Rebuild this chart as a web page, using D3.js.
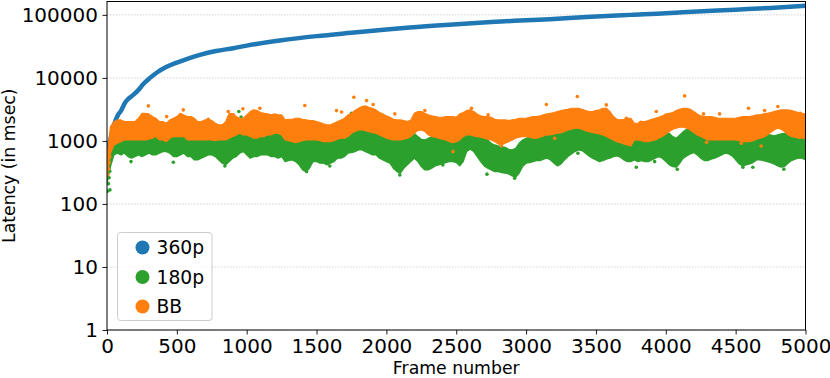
<!DOCTYPE html>
<html><head><meta charset="utf-8">
<script src="https://cdn.jsdelivr.net/npm/d3@7"></script>
<style>body{margin:0;background:#fff}svg{display:block}text{font-family:"DejaVu Sans",sans-serif}</style>
</head><body><svg id="chart" width="830" height="378"></svg>
<script>
// ---- data (latency in msec) ----
const frameStep = 25; // band samples every 25 frames, 0..5000
const seriesNames = ["360p", "180p", "BB"];
const xTicks = [0, 500, 1000, 1500, 2000, 2500, 3000, 3500, 4000, 4500, 5000];
const yTicks = [1, 10, 100, 1000, 10000, 100000];
const yLimit = [1, 163000];

// 360p: steadily growing latency
const p360Frames = [0, 10, 21, 36, 50, 79, 100, 128, 150, 188, 224, 260, 308, 360, 427, 500, 580, 665, 780, 904, 1000, 1237, 1500, 1750, 2000, 2167, 2500, 2750, 3000, 3169, 3500, 3750, 4000, 4120, 4500, 4750, 5000];
const p360Values = [600, 800, 1000, 1340, 1800, 2590, 3000, 4000, 4600, 5370, 6400, 8000, 10000, 12300, 15000, 17500, 20300, 23200, 26700, 29600, 32500, 39100, 46000, 52000, 58500, 63000, 71000, 77000, 82000, 85500, 94000, 100000, 106000, 110000, 121000, 129000, 139000];

// BB: upper / lower envelope of the orange cloud
const bbHigh = [564,1688,2027,2154,2154,2027,2027,2027,2027,2290,2749,2749,2683,2433,2290,2027,2027,1907,2154,2290,2433,2749,2586,2433,2433,2290,2027,2027,2154,2208,2102,1907,1795,1795,2027,2749,2683,2433,2290,2290,2586,2922,3105,3030,2817,2749,2683,2586,2683,2586,2586,
2154,2208,2208,2290,2290,2208,2154,2102,2102,2027,1954,1861,1795,1795,1907,2027,2154,2290,2586,2749,3030,3300,3508,3594,3422,3300,3105,2817,2683,2494,2375,2208,2154,2154,2102,2027,2154,2749,2922,2922,2749,2586,2494,2433,2375,2375,2433,2433,2433,2375,
2683,2817,3030,3105,2922,2683,2494,2433,2433,2375,2208,2154,2154,2154,2102,2154,2208,2290,2290,2290,2375,2433,2433,2494,2586,2683,2749,2817,2922,3030,3105,3182,3300,3300,3300,3182,3030,2922,2922,3030,3105,3300,3300,2922,2433,2208,2154,2208,2290,2290,
1907,1907,2027,2027,2102,2208,2290,2375,2494,2683,2749,2817,3030,3182,3300,3300,3182,2922,2683,2494,2433,2433,2433,2375,2290,2290,2290,2290,2290,2290,2375,2433,2433,2433,2494,2586,2586,2683,2749,2817,2922,3030,3105,3105,3105,3030,2922,2817,2749,2683];
const bbLow = [272,637,864,918,976,1037,1037,1037,1037,1037,1037,1037,1063,1102,1172,1037,1037,976,1102,1172,1172,1172,1172,1037,1037,1037,1037,1037,1037,1037,1037,1012,1037,1037,1037,1102,1172,1245,1323,1245,1245,1172,1102,1102,1172,1172,1245,1245,1323,1323,1245,
1037,1012,976,941,976,1012,1037,1037,1037,1037,1012,976,976,976,1012,1063,1102,1102,1172,1323,1407,1495,1495,1459,1407,1356,1323,1245,1172,1102,1063,1037,1037,1037,1063,1102,1172,1323,1459,1495,1407,1245,1172,1144,1102,1063,1037,976,941,976,
1037,1172,1245,1245,1200,1172,1144,1102,1063,1037,976,896,864,918,976,1037,1102,1144,1172,1172,1144,1102,1102,1144,1200,1245,1245,1291,1323,1356,1407,1495,1532,1589,1589,1532,1459,1407,1356,1323,1291,1245,1172,1102,1037,976,941,896,864,833,
1037,1037,1012,976,976,1012,1037,1102,1172,1291,1407,1532,1589,1648,1648,1589,1495,1356,1245,1172,1102,1037,1037,1037,1037,1037,1037,1037,1037,1037,1012,976,976,976,1012,1063,1102,1144,1245,1356,1495,1589,1532,1407,1245,1172,1144,1102,1102,1102];

// 180p: upper / lower envelope of the green cloud
const p180High = [391,813,1037,1102,1102,1172,1172,1102,1172,1172,1172,1172,1245,1356,1407,1172,1172,1172,1245,1323,1245,1323,1323,1245,1172,1172,1172,1172,1172,1172,1172,1172,1172,1172,1172,1245,1323,1323,1407,1407,1356,1323,1245,1245,1323,1323,1356,1407,1407,1407,1407,
1102,1102,1102,1063,1102,1102,1172,1172,1172,1172,1144,1102,1102,1102,1144,1200,1245,1323,1407,1495,1589,1688,1648,1589,1532,1495,1459,1407,1323,1245,1172,1102,1037,1037,1102,1172,1245,1323,1172,1063,1037,1102,1172,1172,1172,1144,1102,1063,1037,1037,
1172,1323,1407,1407,1356,1291,1200,1172,1037,918,864,833,813,794,737,720,765,918,1037,1102,1172,1200,1200,1245,1323,1356,1356,1323,1291,1323,1407,1532,1589,1648,1648,1589,1532,1459,1407,1407,1356,1323,1291,1200,1172,1102,1037,1012,1037,1037,
1102,1102,1102,1063,1063,1102,1144,1200,1291,1356,1323,1172,1102,1245,1407,1532,1589,1532,1407,1291,1200,1144,1102,1102,1102,1144,1172,1172,1172,1144,1102,1063,1063,1063,1102,1172,1200,1245,1245,1245,1200,1245,1291,1323,1291,1245,1291,1356,1407,1407];
const p180Low = [213,391,600,637,600,637,564,531,564,600,564,600,637,600,600,637,677,677,637,564,564,600,637,564,564,499,499,531,564,600,600,564,499,442,416,470,531,564,637,677,600,531,564,564,600,600,600,564,564,531,564,
470,487,499,470,416,346,326,368,470,470,442,442,416,442,470,531,531,564,637,653,677,720,720,677,637,600,600,531,499,470,442,368,326,307,368,416,470,531,470,391,346,346,368,401,416,431,453,470,470,453,
401,470,677,737,677,564,470,401,368,346,326,326,314,307,299,278,265,307,391,442,453,470,487,487,512,531,499,442,401,431,499,564,622,677,720,702,637,578,531,499,470,487,512,531,564,578,550,499,470,470,
499,470,487,470,470,499,531,564,531,470,416,391,382,442,531,578,622,653,600,531,487,487,512,531,564,600,637,622,578,499,431,401,416,431,453,499,499,487,470,453,431,401,382,391,442,487,512,531,531,499];

// isolated points outside the clouds [frame, msec]
const bbOutliers = [[5,290],[10,360],[15,450],[20,560],[296,3594],[427,2433],[546,3105],[725,2208],[868,2922],[904,2586],[973,3240],[1094,3300],[1416,3640],[1643,3030],[1679,2880],[1767,4934],[1858,4365],[1905,3780],[2060,2683],[2275,3030],[2477,677],[2609,3300],[2728,2586],[2823,833],[3145,3780],[3205,1102],[3367,5053],[3574,3728],[3718,2290],[3820,1980],[3932,2922],[4135,5179],[4270,2683],[4292,950],[4385,2683],[4540,918],[4592,3300],[4683,833],[4707,3030],[4802,3508],[4962,2749]];
const p180Outliers = [[5,160],[10,210],[15,260],[20,330],[21,167],[172,470],[475,460],[844,401],[944,2922],[951,794],[960,2400],[1429,326],[1595,401],[1750,2749],[2096,289],[2404,416],[2720,297],[2918,256],[3169,600],[3371,637],[3424,737],[3789,382],[3920,470],[4082,355],[4552,382],[4623,382],[4845,355]];

// ---- drawing ----
const colors = {"360p": "#1f77b4", "180p": "#2ca02c", "BB": "#ff7f0e"};
const svg = d3.select("#chart");
const mL = 107, mR = 805.5, mT = 1.5, mB = 330;
const x = d3.scaleLinear().domain([0, 5000]).range([mL, mR]);
const y = d3.scaleLog().domain(yLimit).range([mB, mT]);
const frames = bbHigh.map((_, i) => i * frameStep);

// grid
svg.append("g").selectAll("line").data(yTicks).join("line")
  .attr("x1", mL).attr("x2", mR)
  .attr("y1", d => y(d)).attr("y2", d => y(d))
  .attr("stroke", "#c8c8c8").attr("stroke-width", 0.8).attr("stroke-dasharray", "1.5,1.5");

const plot = svg.append("g");
plot.append("clipPath").attr("id", "clip").append("rect")
  .attr("x", mL).attr("y", mT).attr("width", mR - mL).attr("height", mB - mT);
const pg = plot.append("g").attr("clip-path", "url(#clip)");

// 360p
pg.append("path")
  .datum(p360Frames.map((f, i) => [f, p360Values[i]]))
  .attr("d", d3.line().x(d => x(d[0])).y(d => y(d[1])).curve(d3.curveMonotoneX))
  .attr("fill", "none").attr("stroke", colors["360p"]).attr("stroke-width", 4.5).attr("stroke-linecap", "round");

function band(high, low, color) {
  const area = d3.area().x((d, i) => x(frames[i])).y0((d, i) => y(low[i])).y1(d => y(d));
  pg.append("path").datum(high).attr("d", area)
    .attr("fill", color).attr("stroke", color).attr("stroke-width", 1.2).attr("stroke-linejoin", "round");
}
function dots(pts, color) {
  pg.append("g").selectAll("circle").data(pts).join("circle")
    .attr("cx", d => x(d[0])).attr("cy", d => y(d[1])).attr("r", 1.8).attr("fill", color);
}
band(p180High, p180Low, colors["180p"]);
dots(p180Outliers, colors["180p"]);
band(bbHigh, bbLow, colors["BB"]);
dots(bbOutliers, colors["BB"]);

// axes
const tickFs = 20, labelFs = 17.3, legendFs = 18.7;
const xAxis = svg.append("g").attr("transform", `translate(0,${mB})`)
  .call(d3.axisBottom(x).tickValues(xTicks).tickFormat(d3.format("d")).tickSize(4.5).tickPadding(4.5).tickSizeOuter(0));
const yAxis = svg.append("g").attr("transform", `translate(${mL},0)`)
  .call(d3.axisLeft(y).tickValues(yTicks).tickFormat(d3.format("d")).tickSize(4.5).tickPadding(4.5).tickSizeOuter(0));
[xAxis, yAxis].forEach(a => {
  a.select(".domain").remove();
  a.selectAll("text").attr("font-size", tickFs).attr("fill", "#000").attr("font-family", "DejaVu Sans");
  a.selectAll("line").attr("stroke", "#000").attr("stroke-width", 0.9);
});
// frame
svg.append("rect").attr("x", mL).attr("y", mT).attr("width", mR - mL).attr("height", mB - mT)
  .attr("fill", "none").attr("stroke", "#000").attr("stroke-width", 1);

svg.append("text").attr("x", (mL + mR) / 2).attr("y", 373.5).attr("text-anchor", "middle")
  .attr("font-size", labelFs).text("Frame number");
svg.append("text").attr("transform", `translate(15,${(mT + mB) / 2}) rotate(-90)`)
  .attr("text-anchor", "middle").attr("font-size", labelFs).text("Latency (in msec)");

// legend
const lg = svg.append("g");
lg.append("rect").attr("x", 117.5).attr("y", 232.5).attr("width", 94.5).attr("height", 88).attr("rx", 3)
  .attr("fill", "#fff").attr("fill-opacity", 0.8).attr("stroke", "#cccccc");
seriesNames.forEach((n, i) => {
  const cy = 247.5 + i * 29.5;
  lg.append("circle").attr("cx", 142.5).attr("cy", cy).attr("r", 7).attr("fill", colors[n]);
  lg.append("text").attr("x", 156.5).attr("y", cy).attr("dy", "0.36em").attr("font-size", legendFs).text(n);
});
</script></body></html>
